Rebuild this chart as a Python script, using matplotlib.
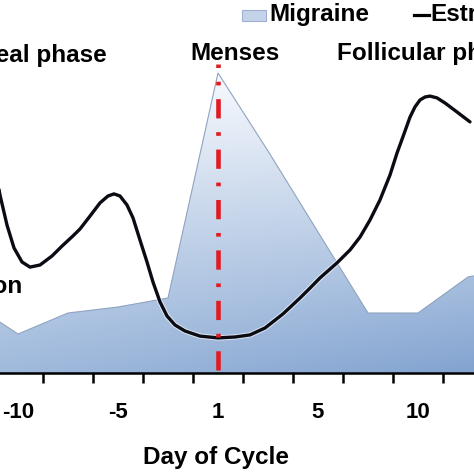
import numpy as np
import matplotlib
matplotlib.use('Agg')
import matplotlib.pyplot as plt
from matplotlib.patches import Polygon, Rectangle
from matplotlib.lines import Line2D
import matplotlib.patheffects as pe

plt.rcParams['font.family'] = ['Liberation Sans', 'DejaVu Sans']
plt.rcParams['font.weight'] = 'bold'

# ---- data (x = category position, day-1 category at 0) ----
tick_pos = [-4, -2, 0, 2, 4]
tick_labels = ['-10', '-5', '1', '5', '10']

migraine_pos = [-5, -4, -3, -2, -1, 0, 1, 2, 3, 4, 5, 6]
migraine_val = [24, 13, 20, 22, 25, 100, 74, 47, 20, 20, 32, 35]

estrogen_pos = [-4.40, -4.36, -4.22, -4.08, -3.92, -3.76, -3.56, -3.32, -3.12, -2.90,
                -2.76, -2.56, -2.36, -2.20, -2.08, -1.96, -1.82, -1.70, -1.56, -1.42,
                -1.30, -1.16, -1.02, -0.86, -0.66, -0.36, 0.00, 0.34, 0.64, 0.94,
                1.30, 1.64, 1.84, 2.04, 2.38, 2.64, 2.84, 3.04, 3.24, 3.44,
                3.58, 3.72, 3.84, 3.94, 4.04, 4.14, 4.24, 4.38, 4.54, 4.78, 5.04]
estrogen_val = [63.0, 59.3, 49.3, 41.7, 37.0, 35.3, 36.0, 39.0, 42.3, 45.7,
                48.0, 52.3, 56.7, 59.0, 59.7, 59.0, 56.0, 51.7, 44.3, 37.0,
                30.3, 23.7, 19.0, 16.0, 14.0, 12.3, 11.7, 12.0, 12.7, 15.0,
                19.7, 25.0, 28.3, 31.7, 36.7, 41.0, 45.3, 51.0, 57.7, 66.0,
                73.3, 79.7, 85.3, 88.7, 91.0, 92.0, 92.3, 91.7, 90.0, 87.0, 83.7]

menses_pos = 0
menses_top = 103

W = H = 474.0
def fx(x):
    return x / W
def fy(y):
    return 1 - y / H

fig = plt.figure(figsize=(4.74, 4.74), dpi=100)
ax = fig.add_axes([0, fy(373), 1, 373 / H])
xlim = (-4.36, 5.12)
ylim = (0, 124.33)

# ---- gradient-filled migraine area ----
verts = list(zip(migraine_pos, migraine_val)) + [(migraine_pos[-1], 0), (migraine_pos[0], 0)]
poly = Polygon(verts, closed=True, facecolor='none', edgecolor='#8fa4be', lw=0.8, zorder=2)
ax.add_patch(poly)

ny, nx = 300, 300
yy, xx = np.mgrid[0:1:ny * 1j, 0:1:nx * 1j]
yv = yy * ylim[1] / 100.0
v = np.clip(yv, 0, 1)
h = xx
bottom = (1 - h)[..., None] * np.array([0.64, 0.74, 0.87]) + h[..., None] * np.array([0.50, 0.63, 0.81])
top = np.array([0.97, 0.98, 0.995])
img = bottom * (1 - v[..., None]) + top * v[..., None]
im = ax.imshow(img, origin='lower', extent=(xlim[0] - 1, xlim[1] + 1, ylim[0], ylim[1]),
               aspect='auto', zorder=1, interpolation='bilinear')
im.set_clip_path(poly)

# ---- menses line ----
ax.vlines(menses_pos, 1, menses_top, colors='#e01b22', lw=3.3,
          linestyles=[(0, (4.2, 3.0, 0.8, 3.0))], zorder=5)

# ---- estrogen curve ----
ax.plot(estrogen_pos, estrogen_val, color='#0b0b14', lw=2.4,
        solid_capstyle='round', solid_joinstyle='round', zorder=4,
        path_effects=[pe.Stroke(linewidth=3.9, foreground='white', alpha=0.6), pe.Normal()])

# ---- axes styling ----
for s in ['top', 'right', 'left']:
    ax.spines[s].set_visible(False)
ax.spines['bottom'].set_linewidth(1.8)
ax.spines['bottom'].set_color('black')
ax.spines['bottom'].set_zorder(6)
ax.set_yticks([])
ax.set_xticks(tick_pos, labels=tick_labels)
ax.set_xticks(np.arange(-4.5, 5.6, 1.0), minor=True)
ax.tick_params(axis='x', which='major', length=0, pad=21, labelsize=16)
ax.tick_params(axis='x', which='minor', length=7, width=1.8, color='black', direction='out')
ax.set_xlabel('Day of Cycle', fontsize=17.5, fontweight='bold')
ax.xaxis.set_label_coords(fx(216), -0.195)

ax.set_xlim(*xlim)
ax.set_ylim(*ylim)

# ---- annotations ----
fs = 17.5
fig.text(fx(107), fy(62), 'Luteal phase', ha='right', va='baseline', fontsize=fs, fontweight='bold')
fig.text(fx(235), fy(60), 'Menses', ha='center', va='baseline', fontsize=fs, fontweight='bold')
fig.text(fx(337), fy(60), 'Follicular phase', ha='left', va='baseline', fontsize=fs, fontweight='bold')
fig.text(fx(22), fy(293), 'Ovulation', ha='right', va='baseline', fontsize=fs, fontweight='bold')

# ---- legend ----
fig.patches.append(Rectangle((fx(242), fy(21)), fx(24), 11 / H, transform=fig.transFigure,
                             facecolor='#c3d3ea', edgecolor='#9db1cc', lw=0.8))
fig.text(fx(269), fy(21), 'Migraine', ha='left', va='baseline', fontsize=fs, fontweight='bold')
fig.lines.append(Line2D([fx(414), fx(429)], [fy(15), fy(15)], transform=fig.transFigure,
                        color='black', lw=2.3))
fig.text(fx(430), fy(21), 'Estrogen', ha='left', va='baseline', fontsize=fs, fontweight='bold')

fig.savefig('out.png', dpi=100)
